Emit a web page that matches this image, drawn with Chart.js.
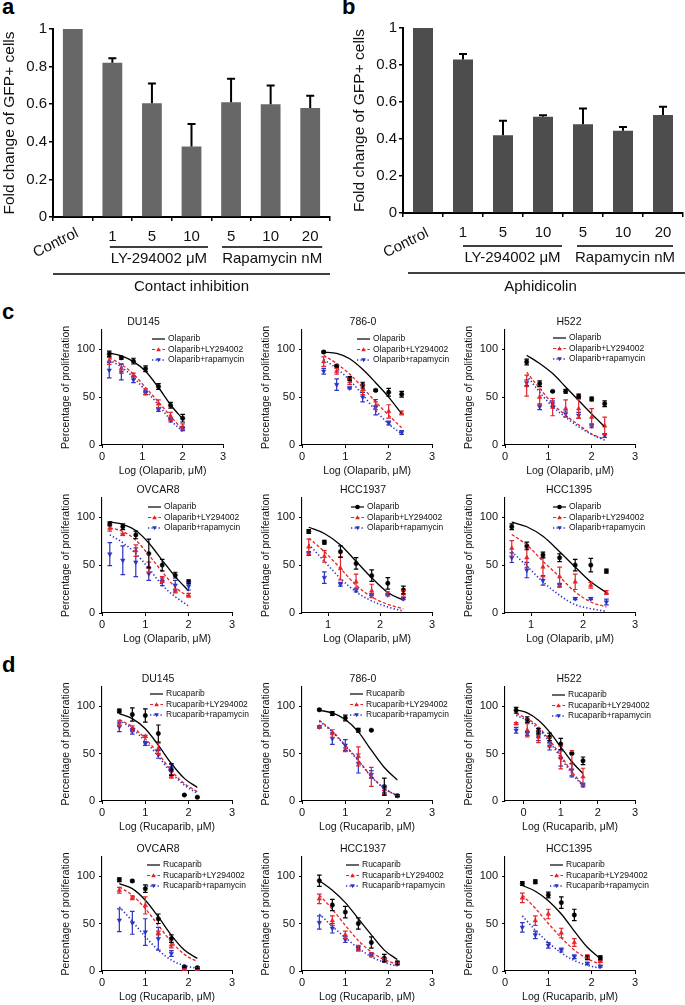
<!DOCTYPE html>
<html><head><meta charset="utf-8">
<script src="https://cdn.jsdelivr.net/npm/chart.js@4.4.0/dist/chart.umd.min.js"></script>
<style>
html,body{margin:0;padding:0;background:#fff;}
body{width:685px;height:1005px;overflow:hidden;position:relative;}
canvas{position:absolute;}
.lbl{position:absolute;font:bold 22px "Liberation Sans",Arial,sans-serif;line-height:22px;color:#000;}
</style></head><body>
<div class="lbl" style="left:2px;top:-4px">a</div>
<div class="lbl" style="left:342px;top:-4px">b</div>
<div class="lbl" style="left:2px;top:301px">c</div>
<div class="lbl" style="left:2px;top:654px">d</div>
<script>
// ---------- DATA ----------
const barCategories = ['Control', '1', '5', '10', '5', '10', '20'];
const barYTicks = [0, 0.2, 0.4, 0.6, 0.8, 1];
const contactValues = [1, 0.82, 0.605, 0.375, 0.61, 0.60, 0.58];
const contactErrors = [0, 0.025, 0.105, 0.12, 0.125, 0.10, 0.065];
const aphidicolinValues = [1, 0.83, 0.42, 0.52, 0.48, 0.445, 0.53];
const aphidicolinErrors = [0, 0.03, 0.078, 0.008, 0.085, 0.02, 0.045];

const doseYTicks = [0, 50, 100];
const doseXTicks = [0, 1, 2, 3];
const doseXTicksHigh = [1, 2, 3];
const olaparibNames = ['Olaparib', 'Olaparib+LY294002', 'Olaparib+rapamycin'];
const rucaparibNames = ['Rucaparib', 'Rucaparib+LY294002', 'Rucaparib+rapamycin'];

// c: Olaparib
const cDU145X = [0.18, 0.48, 0.78, 1.08, 1.4, 1.7, 2.0];
const cDU145Drug = [95, 91, 87.5, 79.5, 61, 41.5, 28];
const cDU145DrugErr = [3, 1.5, 3, 3, 3, 3, 4];
const cDU145Ly = [88, 80, 73, 55.5, 43, 30, 19];
const cDU145LyErr = [4, 5, 2, 3, 4, 4, 3];
const cDU145Rapa = [78, 76, 68, 54.5, 37, 26, 17];
const cDU145RapaErr = [8, 8, 3, 2, 2, 2, 2];
const cDU145FitDrug = [96, 93, 87, 77, 60, 42, 27];
const cDU145FitLy = [91, 84, 74, 60, 45, 30, 16];
const cDU145FitRapa = [88.5, 81.5, 70.5, 57, 42, 26, 14];

const c786X = [0.5, 0.8, 1.1, 1.4, 1.7, 2.0, 2.3];
const c786Drug = [97, 82.5, 69.5, 62.5, 57, 55, 53];
const c786DrugErr = [1, 1, 2, 3, 1, 4, 3];
const c786Ly = [87, 77, 66, 57.7, 41, 35, 33.5];
const c786LyErr = [5, 3, 3, 5, 4, 7, 2];
const c786Rapa = [77, 63, 59.5, 50, 39.5, 23, 13];
const c786RapaErr = [3, 6, 1, 5, 8, 2, 2];
const c786FitDrug = [97, 95.5, 90, 79, 65, 50, 32.5];
const c786FitLy = [93.7, 85, 74, 60, 45, 31, 18];
const c786FitRapa = [89, 80, 67.5, 52.5, 36, 22, 11.5];

const cH522X = [0.5, 0.8, 1.1, 1.4, 1.7, 2.0, 2.3];
const cH522Drug = [86.7, 64, 56, 56, 51, 48, 43];
const cH522DrugErr = [3, 3, 0.5, 2, 2, 2, 3];
const cH522Ly = [62, 50, 39.5, 38, 37.8, 29, 20];
const cH522LyErr = [11, 8, 9, 9, 10, 9, 9];
const cH522Rapa = [65, 40, 43, 32.5, 31, 20, 10];
const cH522RapaErr = [3, 3, 3, 3, 3, 2, 2];
const cH522FitDrug = [93.7, 85, 74.5, 60.5, 46.5, 32.5, 19];
const cH522FitLy = [76, 59, 43, 31, 21, 11.5, 6];
const cH522FitRapa = [72.7, 55, 40, 29, 19, 11, 5];

const cOVCAR8X = [0.18, 0.48, 0.78, 1.08, 1.39, 1.69, 2.0];
const cOVCAR8Drug = [93, 90, 81.5, 62, 50, 39.5, 32.5];
const cOVCAR8DrugErr = [2, 3, 4, 15, 6, 3, 2];
const cOVCAR8Ly = [88.5, 82, 65, 48, 35, 23, 18.5];
const cOVCAR8LyErr = [3, 1, 6, 5, 3, 2, 2];
const cOVCAR8Rapa = [61.5, 55, 53, 41, 32.5, 29, 28];
const cOVCAR8RapaErr = [12, 15, 15, 7, 4, 5, 4];
const cOVCAR8FitDrug = [95, 92.5, 86, 73, 55, 38, 23];
const cOVCAR8FitLy = [89, 85, 76, 60.5, 43, 27, 17];
const cOVCAR8FitRapa = [81.5, 73.4, 62, 46.5, 29, 17, 7.3];

const cHCC1937X = [0.63, 0.93, 1.24, 1.54, 1.84, 2.15, 2.45];
const cHCC1937Drug = [85, 73.8, 64, 51.7, 39, 31, 24];
const cHCC1937DrugErr = [2, 2, 6, 6, 6, 6, 4];
const cHCC1937Ly = [69, 59, 46.5, 32.5, 23, 20, 20.5];
const cHCC1937LyErr = [8, 6, 12, 8, 7, 2, 3];
const cHCC1937Rapa = [62, 37, 30, 24, 19, 19, 15];
const cHCC1937RapaErr = [2, 6, 2, 2, 1, 1, 1];
const cHCC1937FitDrug = [89.5, 83, 71, 54, 36.7, 21.3, 13.3];
const cHCC1937FitLy = [78, 64, 46.5, 29, 16.8, 9, 4.5];
const cHCC1937FitRapa = [71.7, 54, 36, 22, 12.6, 6.3, 2];

const cHCC1395X = [0.63, 0.92, 1.23, 1.55, 1.85, 2.15, 2.45];
const cHCC1395Drug = [90, 70, 60.5, 57.7, 50, 50, 43.7];
const cHCC1395DrugErr = [3, 4, 3, 4, 6, 7, 2];
const cHCC1395Ly = [67.5, 57.7, 48, 37.8, 32.5, 29, 21.3];
const cHCC1395LyErr = [8, 10, 10, 10, 8, 3, 2];
const cHCC1395Rapa = [57.7, 44.8, 34, 29, 15, 15, 11.5];
const cHCC1395RapaErr = [5, 8, 5, 2, 1, 1, 3];
const cHCC1395FitDrug = [94.8, 90, 80, 64, 48, 32.5, 21.3];
const cHCC1395FitLy = [82, 71, 54, 37.8, 22, 11.5, 6.3];
const cHCC1395FitRapa = [64, 49, 32.5, 18.5, 8.7, 4.5, 1.7];

// d: Rucaparib
const dDU145X = [0.4, 0.7, 1.0, 1.3, 1.6, 1.9, 2.2];
const dDU145Drug = [94.8, 91, 90, 71, 33, 6.3, 4];
const dDU145DrugErr = [2, 7, 7, 9, 6, 0.5, 0.5];
const dDU145Ly = [82, 76, 68, 55, 26, null, null];
const dDU145LyErr = [3, 3, 1, 6, 2, 0, 0];
const dDU145Rapa = [78, 73.5, 60.5, 49, 35, null, null];
const dDU145RapaErr = [5, 3, 2, 4, 4, 0, 0];
const dDU145FitDrug = [92, 86.7, 76, 58.7, 39.5, 23.8, 14.3];
const dDU145FitLy = [85.7, 78, 65.7, 50, 31.8, 18.5, 9.8];
const dDU145FitRapa = [85, 76, 63, 47, 29.7, 16.8, 8];

const d786X = [0.4, 0.7, 1.0, 1.3, 1.6, 1.9, 2.2];
const d786Drug = [96, 92, 87.4, 74.5, 74.5, 15, 5.6];
const d786DrugErr = [1, 2, 3, 2, 0.5, 9, 1];
const d786Ly = [78, 71, 54, 47, 25.5, 9, 5.6];
const d786LyErr = [1, 4, 2, 10, 10, 2, 1];
const d786Rapa = [78, 65.7, 58.7, 39.5, 28, 12.6, 5.6];
const d786RapaErr = [1, 6, 6, 10, 4, 4, 1];
const d786FitDrug = [95.5, 92.7, 85.7, 72.7, 53.5, 35.3, 22];
const d786FitLy = [85, 73.4, 58.7, 43, 26, 13.3, 5.6];
const d786FitRapa = [84, 72.7, 57.7, 42.3, 25.5, 13.3, 5.2];

const dH522X = [-0.2, 0.1, 0.4, 0.7, 1.0, 1.3, 1.6];
const dH522Drug = [95.5, 85.7, 73.4, 67.5, 60, 50, 42.3];
const dH522DrugErr = [3, 3, 3, 4, 6, 1, 4];
const dH522Ly = [81.5, 74.5, 67.5, 62, 45.8, 40, 25.5];
const dH522LyErr = [1, 7, 6, 5, 12, 13, 9];
const dH522Rapa = [74.5, 71, 67.5, 57.7, 44.8, 32.5, 16.8];
const dH522RapaErr = [3, 2, 4, 4, 8, 7, 2];
const dH522FitDrug = [96, 92.7, 85, 72.7, 57, 41.3, 29];
const dH522FitLy = [92, 86.7, 78, 64, 48, 30.8, 16.8];
const dH522FitRapa = [90, 85, 76, 62, 45.8, 29, 15.7];

const dOVCAR8X = [0.4, 0.7, 1.0, 1.3, 1.6, 1.9, 2.2];
const dOVCAR8Drug = [96, 94.8, 86.7, 55, 34, 4.5, 3.5];
const dOVCAR8DrugErr = [2, 1, 4, 5, 4, 1, 1];
const dOVCAR8Ly = [85, 77, 69, 40, 27.3, 2, 2];
const dOVCAR8LyErr = [3, 2, 9, 2, 3, 1, 1];
const dOVCAR8Rapa = [53.5, 50.7, 41, 34, 18.5, 3.5, 2.8];
const dOVCAR8RapaErr = [12, 12, 14, 12, 3, 1, 1];
const dOVCAR8FitDrug = [92, 86.7, 74.5, 57, 37.8, 22, 13.3];
const dOVCAR8FitLy = [88.5, 79.7, 65.7, 48, 30.8, 17.5, 9.8];
const dOVCAR8FitRapa = [67.5, 52.4, 36, 22, 11.5, 5.6, 2.8];

const dHCC1937X = [0.4, 0.7, 1.0, 1.3, 1.6, 1.9, 2.2];
const dHCC1937Drug = [95, 69.5, 62, 50, 30, 13.6, 8.4];
const dHCC1937DrugErr = [6, 6, 6, 6, 6, 4, 2];
const dHCC1937Ly = [76, 53, 38, 24, 17, 11.5, 8.4];
const dHCC1937LyErr = [5, 5, 4, 3, 2, 2, 1];
const dHCC1937Rapa = [51, 45, 33, 24, 17, 11.5, 8.4];
const dHCC1937RapaErr = [7, 5, 3, 2, 2, 1, 1];
const dHCC1937FitDrug = [95, 85, 72, 55, 38, 22, 12];
const dHCC1937FitLy = [80, 65, 48, 32, 20, 12, 7];
const dHCC1937FitRapa = [60, 47, 35, 24, 15, 9, 5];

const dHCC1395X = [0.4, 0.7, 1.0, 1.3, 1.6, 1.9, 2.2];
const dHCC1395Drug = [92, 94, 80, 72, 59, 14, 14];
const dHCC1395DrugErr = [2, 2, 3, 6, 6, 2, 2];
const dHCC1395Ly = [77, 53, 60, 40, 30, 15, 10];
const dHCC1395LyErr = [5, 5, 5, 5, 4, 2, 1];
const dHCC1395Rapa = [46, 38, 27, 22, 15, 8, 5];
const dHCC1395RapaErr = [5, 4, 3, 2, 2, 1, 1];
const dHCC1395FitDrug = [90, 84, 74, 60, 42, 25, 13];
const dHCC1395FitLy = [80, 66, 50, 35, 22, 13, 7];
const dHCC1395FitRapa = [58, 43, 30, 19, 11, 6, 3];

// ---------- RENDER ----------
const FONT = '"Liberation Sans", Arial, Helvetica, sans-serif';
Chart.defaults.font.family = FONT;
Chart.defaults.color = '#111';
const RED = '#e3242b', BLUE = '#2b33c4', BLACK = '#000';

function mk(left, top, w, h) {
  const cv = document.createElement('canvas');
  cv.width = w; cv.height = h;
  cv.style.left = left + 'px'; cv.style.top = top + 'px';
  cv.style.width = w + 'px'; cv.style.height = h + 'px';
  document.body.appendChild(cv);
  return cv;
}

function barChart(p) {
  const cv = mk(p.left, p.top, p.w, p.h);
  const yw = p.ax0 - p.left, padR = p.left + p.w - p.ax1, padT = p.ay0 - p.top, xh = p.top + p.h - p.ay1;
  new Chart(cv, {
    type: 'bar',
    data: { labels: barCategories, datasets: [{ data: p.values, backgroundColor: p.color, barPercentage: 0.5, categoryPercentage: 1, borderWidth: 0 }] },
    options: {
      responsive: false, animation: false, devicePixelRatio: 1,
      layout: { padding: { top: padT, right: padR, bottom: 0, left: 0 } },
      plugins: { legend: { display: false }, tooltip: { enabled: false } },
      scales: {
        x: { ticks: { display: false }, grid: { drawOnChartArea: false, drawTicks: true, tickLength: 4, color: '#000', lineWidth: 1.5, offset: true },
             border: { color: '#000', width: 2 }, afterFit(s) { s.height = xh; } },
        y: { min: 0, max: 1, afterBuildTicks(s) { s.ticks = barYTicks.map(v => ({ value: v })); },
             ticks: { font: { size: 15 }, color: '#111', padding: 2, callback: v => String(v) },
             grid: { drawOnChartArea: false, tickLength: 4, color: '#000', lineWidth: 1.5 },
             border: { color: '#000', width: 2 }, afterFit(s) { s.width = yw; } }
      }
    },
    plugins: [{
      id: 'barext',
      afterDatasetsDraw(chart) {
        const ys = chart.scales.y, ctx = chart.ctx, meta = chart.getDatasetMeta(0);
        ctx.save(); ctx.strokeStyle = '#000'; ctx.lineWidth = 2;
        meta.data.forEach((bar, i) => {
          const e = p.errors[i]; if (!e) return;
          const y0 = ys.getPixelForValue(p.values[i]), y1 = ys.getPixelForValue(p.values[i] + e);
          ctx.beginPath(); ctx.moveTo(bar.x, y0); ctx.lineTo(bar.x, y1);
          ctx.moveTo(bar.x - 4, y1); ctx.lineTo(bar.x + 4, y1); ctx.stroke();
        });
        ctx.restore();
      },
      afterDraw(chart) {
        const ctx = chart.ctx, a = chart.chartArea, xs = chart.scales.x;
        const cx = i => xs.getPixelForValue(i);
        const cw = cx(1) - cx(0);
        ctx.save();
        ctx.fillStyle = '#111'; ctx.strokeStyle = '#000'; ctx.lineWidth = 1.5;
        ctx.font = '15px ' + FONT; ctx.textAlign = 'center'; ctx.textBaseline = 'middle';
        for (let i = 1; i < barCategories.length; i++) ctx.fillText(barCategories[i], cx(i), p.numY);
        // Control rotated
        ctx.save(); ctx.translate(cx(0) - 17, 243); ctx.rotate(-0.46);
        ctx.fillText(barCategories[0], 0, 0); ctx.restore();
        // group lines
        const ly0 = cx(1) + p.lyL, ly1 = cx(3) + p.lyR, rp0 = cx(4) + p.rpL, rp1 = cx(6) + p.rpR;
        ctx.beginPath();
        ctx.moveTo(ly0, p.subLineY); ctx.lineTo(ly1, p.subLineY);
        ctx.moveTo(rp0, p.subLineY); ctx.lineTo(rp1, p.subLineY);
        const L0 = a.left + p.longL, L1 = a.right + p.longR;
        ctx.moveTo(L0, p.lineY); ctx.lineTo(L1, p.lineY);
        ctx.stroke();
        ctx.fillText('LY-294002 \u03bcM', (ly0 + ly1) / 2, p.subY);
        ctx.fillText('Rapamycin nM', (rp0 + rp1) / 2, p.subY);
        ctx.fillText(p.mainLabel, (L0 + L1) / 2 + p.mainDx, p.mainY);
        ctx.save(); ctx.translate(a.left - 43, (a.top + a.bottom) / 2); ctx.rotate(-Math.PI / 2);
        ctx.font = '15.5px ' + FONT;
        ctx.fillText('Fold change of GFP+ cells', 0, 0); ctx.restore();
        ctx.restore();
      }
    }]
  });
}

function pts(xs, ys) {
  const out = [];
  xs.forEach((x, i) => { if (ys[i] !== null && ys[i] !== undefined) out.push({ x: x, y: ys[i] }); });
  return out;
}

function drawMarker(ctx, kind, x, y, r, color) {
  ctx.fillStyle = color;
  ctx.beginPath();
  if (kind === 'circle') { ctx.arc(x, y, r, 0, Math.PI * 2); }
  else if (kind === 'up') { ctx.moveTo(x, y - r); ctx.lineTo(x + r, y + r * 0.8); ctx.lineTo(x - r, y + r * 0.8); ctx.closePath(); }
  else { ctx.moveTo(x, y + r); ctx.lineTo(x + r, y - r * 0.8); ctx.lineTo(x - r, y - r * 0.8); ctx.closePath(); }
  ctx.fill();
}

function doseChart(p) {
  const left = p.col.left, w = p.col.w, ax0 = p.col.ax0;
  const top = p.ay0 - 25, h = 180;
  const cv = mk(left, top, w, h);
  const yw = ax0 - left, padR = left + w - p.ax1, padT = 25, xh = top + h - p.ay1;
  const fit = (data, c, dash, bw) => ({ data: data, borderColor: c, borderWidth: bw, borderDash: dash, pointRadius: 0, fill: false, cubicInterpolationMode: 'monotone', showLine: true });
  const mark = (data, c, style, rot, r) => ({ data: data, showLine: false, pointStyle: style, rotation: rot, pointRadius: r, pointBackgroundColor: c, pointBorderColor: c, pointBorderWidth: 0.5 });
  const datasets = [
    fit(pts(p.x, p.fitRapa), BLUE, [1.3, 2.2], 1.6),
    fit(pts(p.x, p.fitLy), RED, [3.2, 2], 1.3),
    fit(pts(p.x, p.fitDrug), BLACK, [], 1.3),
    mark(pts(p.x, p.rapa), BLUE, 'triangle', 180, 2.6),
    mark(pts(p.x, p.ly), RED, 'triangle', 0, 2.6),
    mark(pts(p.x, p.drug), BLACK, 'circle', 0, 2.2)
  ];
  const axisGrid = { drawOnChartArea: false, tickLength: 3, color: '#000', lineWidth: 1 };
  new Chart(cv, {
    type: 'line',
    data: { datasets: datasets },
    options: {
      responsive: false, animation: false, devicePixelRatio: 1,
      layout: { padding: { top: padT, right: padR, bottom: 0, left: 0 } },
      plugins: { legend: { display: false }, tooltip: { enabled: false } },
      scales: {
        x: { type: 'linear', min: p.xMin, max: p.xMax, afterBuildTicks(s) { s.ticks = p.xTicks.map(v => ({ value: v })); },
             ticks: { font: { size: 11 }, color: '#111', padding: 2, maxRotation: 0, callback: v => String(v) },
             grid: axisGrid, border: { color: '#000', width: 1.1 }, afterFit(s) { s.height = xh; } },
        y: { min: 0, max: 120, afterBuildTicks(s) { s.ticks = doseYTicks.map(v => ({ value: v })); },
             ticks: { font: { size: 11 }, color: '#111', padding: 4, callback: v => String(v) },
             grid: axisGrid, border: { color: '#000', width: 1.1 }, afterFit(s) { s.width = yw; } }
      }
    },
    plugins: [{
      id: 'doseext',
      afterDatasetsDraw(chart) {
        const xs = chart.scales.x, ys = chart.scales.y, ctx = chart.ctx;
        ctx.save(); ctx.lineWidth = 1.2;
        [[p.rapa, p.rapaErr, BLUE], [p.ly, p.lyErr, RED], [p.drug, p.drugErr, BLACK]].forEach(([v, e, c]) => {
          ctx.strokeStyle = c;
          p.x.forEach((x, i) => {
            if (v[i] === null || !e[i]) return;
            const px = xs.getPixelForValue(x);
            const y1 = ys.getPixelForValue(v[i] + e[i]), y2 = ys.getPixelForValue(v[i] - e[i]);
            ctx.beginPath();
            ctx.moveTo(px, y1); ctx.lineTo(px, y2);
            ctx.moveTo(px - 2.3, y1); ctx.lineTo(px + 2.3, y1);
            ctx.moveTo(px - 2.3, y2); ctx.lineTo(px + 2.3, y2);
            ctx.stroke();
          });
        });
        ctx.restore();
      },
      afterDraw(chart) {
        const a = chart.chartArea, ctx = chart.ctx;
        ctx.save();
        ctx.fillStyle = '#111'; ctx.textAlign = 'center'; ctx.textBaseline = 'middle';
        ctx.font = '10.5px ' + FONT;
        ctx.fillText(p.title, (a.left + a.right) / 2 + p.titleDx, a.top - 8);
        ctx.fillText(p.xTitle, (a.left + a.right) / 2, a.bottom + 26);
        ctx.save(); ctx.translate(a.left - 36, (a.top + a.bottom) / 2); ctx.rotate(-Math.PI / 2);
        ctx.fillText('Percentage of proliferation', 0, 0); ctx.restore();
        // legend
        const lx = a.left + p.legDx;
        const styles = [[BLACK, [], p.blackMarker ? 'circle' : null], [RED, [3.2, 2], 'up'], [BLUE, [1.3, 2.2], 'down']];
        ctx.font = '8.5px ' + FONT; ctx.textAlign = 'left';
        p.names.forEach((nm, i) => {
          const y = a.top + p.legDy + i * 10.5;
          const [c, dash, mk2] = styles[i];
          ctx.save(); ctx.strokeStyle = c; ctx.lineWidth = i === 2 ? 1.5 : 1.2; ctx.setLineDash(dash);
          ctx.beginPath(); ctx.moveTo(lx, y); ctx.lineTo(lx + 13, y); ctx.stroke(); ctx.restore();
          if (mk2) drawMarker(ctx, mk2, lx + 6.5, y, 2.3, c);
          ctx.fillStyle = '#111';
          ctx.fillText(nm, lx + 16, y);
        });
        ctx.restore();
      }
    }]
  });
}

barChart({ left: 0, top: 0, w: 340, h: 300, ax0: 53, ax1: 330, ay0: 29, ay1: 217,
  values: contactValues, errors: contactErrors, color: '#676767',
  numY: 237, subLineY: 247, subY: 259, lineY: 274, mainY: 287,
  lyL: -2.5, lyR: 16.5, rpL: -9, rpR: 12, longL: 0, longR: 0, mainDx: 0, mainLabel: 'Contact inhibition' });
barChart({ left: 340, top: 0, w: 345, h: 300, ax0: 403, ax1: 683, ay0: 28, ay1: 213,
  values: aphidicolinValues, errors: aphidicolinErrors, color: '#4d4d4d',
  numY: 233, subLineY: 246, subY: 258, lineY: 273, mainY: 287,
  lyL: 0, lyR: 19, rpL: -6, rpR: 10, longL: 5, longR: 2, mainDx: -6, mainLabel: 'Aphidicolin' });

const COL1 = { left: 0, w: 255, ax0: 102 };
const COL2 = { left: 225, w: 235, ax0: 302 };
const COL3 = { left: 455, w: 230, ax0: 505 };
const OLA_T = 'Log (Olaparib, \u03bcM)', RUC_T = 'Log (Rucaparib, \u03bcM)';

doseChart({ col: COL1, ax1: 223, ay0: 330, ay1: 445, xMin: 0, xMax: 3, xTicks: doseXTicks, title: 'DU145', titleDx: -19, xTitle: OLA_T, names: olaparibNames, legDx: 50, legDy: 9,
  x: cDU145X, drug: cDU145Drug, drugErr: cDU145DrugErr, ly: cDU145Ly, lyErr: cDU145LyErr, rapa: cDU145Rapa, rapaErr: cDU145RapaErr, fitDrug: cDU145FitDrug, fitLy: cDU145FitLy, fitRapa: cDU145FitRapa });
doseChart({ col: COL2, ax1: 432, ay0: 330, ay1: 445, xMin: 0, xMax: 3, xTicks: doseXTicks, title: '786-0', titleDx: -4, xTitle: OLA_T, names: olaparibNames, legDx: 55, legDy: 9,
  x: c786X, drug: c786Drug, drugErr: c786DrugErr, ly: c786Ly, lyErr: c786LyErr, rapa: c786Rapa, rapaErr: c786RapaErr, fitDrug: c786FitDrug, fitLy: c786FitLy, fitRapa: c786FitRapa });
doseChart({ col: COL3, ax1: 635, ay0: 330, ay1: 445, xMin: 0, xMax: 3, xTicks: doseXTicks, title: 'H522', titleDx: -1, xTitle: OLA_T, names: olaparibNames, legDx: 48, legDy: 8,
  x: cH522X, drug: cH522Drug, drugErr: cH522DrugErr, ly: cH522Ly, lyErr: cH522LyErr, rapa: cH522Rapa, rapaErr: cH522RapaErr, fitDrug: cH522FitDrug, fitLy: cH522FitLy, fitRapa: cH522FitRapa });
doseChart({ col: COL1, ax1: 232, ay0: 498, ay1: 613, xMin: 0, xMax: 3, xTicks: doseXTicks, title: 'OVCAR8', titleDx: -9, xTitle: OLA_T, names: olaparibNames, legDx: 46, legDy: 9,
  x: cOVCAR8X, drug: cOVCAR8Drug, drugErr: cOVCAR8DrugErr, ly: cOVCAR8Ly, lyErr: cOVCAR8LyErr, rapa: cOVCAR8Rapa, rapaErr: cOVCAR8RapaErr, fitDrug: cOVCAR8FitDrug, fitLy: cOVCAR8FitLy, fitRapa: cOVCAR8FitRapa });
doseChart({ col: COL2, ax1: 432, ay0: 498, ay1: 613, xMin: 0.5, xMax: 3, xTicks: doseXTicksHigh, title: 'HCC1937', titleDx: -4, xTitle: OLA_T, names: olaparibNames, legDx: 49, legDy: 9, blackMarker: true,
  x: cHCC1937X, drug: cHCC1937Drug, drugErr: cHCC1937DrugErr, ly: cHCC1937Ly, lyErr: cHCC1937LyErr, rapa: cHCC1937Rapa, rapaErr: cHCC1937RapaErr, fitDrug: cHCC1937FitDrug, fitLy: cHCC1937FitLy, fitRapa: cHCC1937FitRapa });
doseChart({ col: COL3, ax1: 635, ay0: 498, ay1: 613, xMin: 0.5, xMax: 3, xTicks: doseXTicksHigh, title: 'HCC1395', titleDx: -1, xTitle: OLA_T, names: olaparibNames, legDx: 48, legDy: 9, blackMarker: true,
  x: cHCC1395X, drug: cHCC1395Drug, drugErr: cHCC1395DrugErr, ly: cHCC1395Ly, lyErr: cHCC1395LyErr, rapa: cHCC1395Rapa, rapaErr: cHCC1395RapaErr, fitDrug: cHCC1395FitDrug, fitLy: cHCC1395FitLy, fitRapa: cHCC1395FitRapa });

doseChart({ col: COL1, ax1: 232, ay0: 687, ay1: 801, xMin: 0, xMax: 3, xTicks: doseXTicks, title: 'DU145', titleDx: -9, xTitle: RUC_T, names: rucaparibNames, legDx: 48, legDy: 7,
  x: dDU145X, drug: dDU145Drug, drugErr: dDU145DrugErr, ly: dDU145Ly, lyErr: dDU145LyErr, rapa: dDU145Rapa, rapaErr: dDU145RapaErr, fitDrug: dDU145FitDrug, fitLy: dDU145FitLy, fitRapa: dDU145FitRapa });
doseChart({ col: COL2, ax1: 432, ay0: 687, ay1: 801, xMin: 0, xMax: 3, xTicks: doseXTicks, title: '786-0', titleDx: -4, xTitle: RUC_T, names: rucaparibNames, legDx: 48, legDy: 7,
  x: d786X, drug: d786Drug, drugErr: d786DrugErr, ly: d786Ly, lyErr: d786LyErr, rapa: d786Rapa, rapaErr: d786RapaErr, fitDrug: d786FitDrug, fitLy: d786FitLy, fitRapa: d786FitRapa });
doseChart({ col: COL3, ax1: 635, ay0: 687, ay1: 801, xMin: -0.5, xMax: 3, xTicks: doseXTicks, title: 'H522', titleDx: -1, xTitle: RUC_T, names: rucaparibNames, legDx: 47, legDy: 8,
  x: dH522X, drug: dH522Drug, drugErr: dH522DrugErr, ly: dH522Ly, lyErr: dH522LyErr, rapa: dH522Rapa, rapaErr: dH522RapaErr, fitDrug: dH522FitDrug, fitLy: dH522FitLy, fitRapa: dH522FitRapa });
doseChart({ col: COL1, ax1: 232, ay0: 857, ay1: 971, xMin: 0, xMax: 3, xTicks: doseXTicks, title: 'OVCAR8', titleDx: -9, xTitle: RUC_T, names: rucaparibNames, legDx: 45, legDy: 8,
  x: dOVCAR8X, drug: dOVCAR8Drug, drugErr: dOVCAR8DrugErr, ly: dOVCAR8Ly, lyErr: dOVCAR8LyErr, rapa: dOVCAR8Rapa, rapaErr: dOVCAR8RapaErr, fitDrug: dOVCAR8FitDrug, fitLy: dOVCAR8FitLy, fitRapa: dOVCAR8FitRapa });
doseChart({ col: COL2, ax1: 432, ay0: 857, ay1: 971, xMin: 0, xMax: 3, xTicks: doseXTicks, title: 'HCC1937', titleDx: -4, xTitle: RUC_T, names: rucaparibNames, legDx: 44, legDy: 8,
  x: dHCC1937X, drug: dHCC1937Drug, drugErr: dHCC1937DrugErr, ly: dHCC1937Ly, lyErr: dHCC1937LyErr, rapa: dHCC1937Rapa, rapaErr: dHCC1937RapaErr, fitDrug: dHCC1937FitDrug, fitLy: dHCC1937FitLy, fitRapa: dHCC1937FitRapa });
doseChart({ col: COL3, ax1: 635, ay0: 857, ay1: 971, xMin: 0, xMax: 3, xTicks: doseXTicks, title: 'HCC1395', titleDx: -1, xTitle: RUC_T, names: rucaparibNames, legDx: 45, legDy: 8,
  x: dHCC1395X, drug: dHCC1395Drug, drugErr: dHCC1395DrugErr, ly: dHCC1395Ly, lyErr: dHCC1395LyErr, rapa: dHCC1395Rapa, rapaErr: dHCC1395RapaErr, fitDrug: dHCC1395FitDrug, fitLy: dHCC1395FitLy, fitRapa: dHCC1395FitRapa });
</script>
</body></html>
